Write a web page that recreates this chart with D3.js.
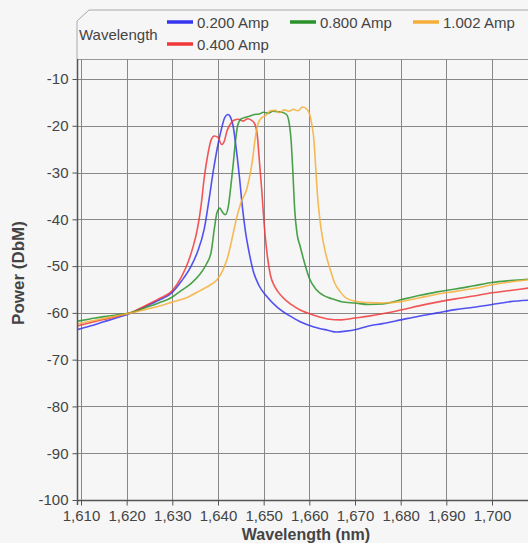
<!DOCTYPE html>
<html>
<head>
<meta charset="utf-8">
<script src="https://cdn.jsdelivr.net/npm/d3@7"></script>
<style>
  body { margin: 0; background: #f6f6f6; }
  svg { display: block; font-family: "Liberation Sans", Arial, sans-serif; }
</style>
</head>
<body>
<div id="chart"></div>
<script>
// tick values
const xTicks = [1610, 1620, 1630, 1640, 1650, 1660, 1670, 1680, 1690, 1700];
const yTicks = [-100, -90, -80, -70, -60, -50, -40, -30, -20, -10];

// series: [wavelength nm, power dBm]
const amp200 = [[1609.1,-63.6],[1612,-62.8],[1615,-61.9],[1618,-61],[1621,-60],[1624,-58.7],[1627,-57.3],[1630,-55.6],[1632,-53.2],[1634,-50.2],[1635.5,-47],[1637,-42],[1638,-36],[1639,-29.5],[1640,-24],[1640.8,-20.5],[1641.5,-18.2],[1642.2,-17.6],[1642.8,-18.3],[1643.3,-20],[1644,-25],[1644.7,-31],[1645.3,-37],[1646,-42.5],[1646.8,-47],[1647.7,-51],[1649,-54.2],[1650.5,-56.3],[1653,-58.8],[1656,-60.8],[1658,-61.9],[1661,-63],[1664,-63.7],[1666,-64.1],[1668,-63.9],[1670,-63.6],[1673,-62.8],[1676,-62.3],[1680,-61.5],[1684,-60.7],[1688,-60],[1692,-59.3],[1696,-58.8],[1700,-58.2],[1704,-57.6],[1708,-57.3]];
const amp400 = [[1609.1,-62.8],[1612,-62.1],[1615,-61.4],[1618,-60.7],[1621,-59.9],[1624,-58.5],[1627,-57],[1630,-55.2],[1632,-52.3],[1633.5,-49],[1634.5,-46],[1635.5,-42],[1636.3,-37],[1637,-31],[1637.8,-26],[1638.5,-23],[1639.2,-22.2],[1640,-22.5],[1640.8,-24],[1641.3,-23.5],[1642,-21],[1642.8,-19.5],[1643.5,-18.8],[1644.5,-18.6],[1645.5,-19],[1646.5,-18.5],[1647.3,-18.8],[1648,-19.5],[1648.6,-22],[1649.1,-28],[1649.6,-34],[1650.1,-41],[1650.7,-47],[1651.5,-52],[1652.5,-54.5],[1654,-56.5],[1656,-58.2],[1658,-59.4],[1661,-60.5],[1664,-61.3],[1667,-61.5],[1670,-61.1],[1673,-60.7],[1676,-60.2],[1680,-59.4],[1684,-58.5],[1688,-57.7],[1692,-57],[1696,-56.4],[1700,-55.7],[1704,-55.2],[1708,-54.7]];
const amp800 = [[1609.1,-61.8],[1612,-61.3],[1615,-60.8],[1618,-60.4],[1621,-59.9],[1624,-58.9],[1627,-57.9],[1630,-56.6],[1632,-55.2],[1634,-53.8],[1636,-51.8],[1637.5,-49.5],[1638.5,-47],[1639.2,-42],[1639.8,-38.5],[1640.4,-37.6],[1641,-38.5],[1641.6,-39],[1642.3,-37],[1642.8,-33],[1643.3,-28.5],[1643.8,-23.5],[1644.3,-20],[1645,-18.6],[1646,-18.2],[1647,-17.9],[1648,-17.6],[1649,-17.5],[1650,-17.1],[1651,-17.3],[1652,-16.9],[1653,-17],[1654,-17.1],[1655,-17.6],[1655.6,-19.5],[1656,-23],[1656.4,-30],[1656.8,-38],[1657.3,-43],[1658,-45.8],[1659,-49.5],[1660,-52.6],[1661.5,-55],[1663,-56.2],[1665,-57],[1667,-57.6],[1670,-57.9],[1673,-58.2],[1676,-58.1],[1680,-57.2],[1684,-56.3],[1688,-55.5],[1692,-54.9],[1696,-54.2],[1700,-53.5],[1704,-53.1],[1708,-52.8]];
const amp1002 = [[1609.1,-62.4],[1612,-61.8],[1615,-61.2],[1618,-60.6],[1621,-60],[1624,-59.3],[1627,-58.6],[1630,-57.7],[1633,-56.8],[1636,-55.3],[1638,-54.2],[1639.7,-53],[1641,-51],[1642,-48.5],[1643,-44.5],[1644,-40],[1645,-36.5],[1646.3,-33.5],[1647,-30.5],[1647.6,-27],[1648.1,-23],[1648.7,-19.8],[1649.5,-18.3],[1650.5,-17.8],[1651.5,-16.8],[1652.5,-16.7],[1653.5,-17.2],[1654.5,-16.6],[1655.5,-16.9],[1656.5,-16.5],[1657.5,-16.8],[1658.5,-16],[1659.3,-16.3],[1660,-17.3],[1660.5,-19.5],[1661,-23],[1661.4,-29],[1661.8,-35],[1662.3,-40],[1662.8,-43.5],[1663.5,-47],[1664.5,-50.5],[1665.5,-53.5],[1666.7,-55.4],[1668,-56.8],[1670,-57.5],[1673,-57.8],[1676,-57.9],[1680,-57.6],[1684,-56.8],[1688,-56],[1692,-55.4],[1696,-54.8],[1700,-54],[1704,-53.4],[1708,-52.9]];

const seriesNames = ['0.200 Amp', '0.400 Amp', '0.800 Amp', '1.002 Amp'];
const seriesData = [amp200, amp400, amp800, amp1002];
const colors = ['#3535f0', '#f03838', '#2a922a', '#f4ae38'];

const W = 528, H = 543;
const plot = {left: 77, top: 59, right: 540, bottom: 500};
const FONT = '"Liberation Sans", Arial, sans-serif';

const x = d3.scaleLinear().domain([1610, 1700]).range([81, 492]);
const y = d3.scaleLinear().domain([-100, -10]).range([500, 79]);

const svg = d3.select('#chart').append('svg')
  .attr('width', W).attr('height', H);

svg.append('defs').append('clipPath').attr('id', 'clip')
  .append('rect')
  .attr('x', plot.left).attr('y', plot.top)
  .attr('width', plot.right - plot.left).attr('height', plot.bottom - plot.top);

// legend frame (chamfered corner, merges with plot top)
svg.append('path')
  .attr('d', `M${plot.left},${plot.top} L${plot.left},21 L89,10 L${W + 5},10`)
  .attr('fill', 'none').attr('stroke', '#aaa').attr('stroke-width', 1);
svg.append('line')
  .attr('x1', plot.left).attr('x2', W + 5)
  .attr('y1', plot.top + 0.5).attr('y2', plot.top + 0.5)
  .attr('stroke', '#999');

// grid
const grid = svg.append('g').attr('class', 'grid');
grid.selectAll('line.v').data(xTicks).join('line')
  .attr('class', 'v')
  .attr('x1', d => Math.round(x(d)) + 0.5).attr('x2', d => Math.round(x(d)) + 0.5)
  .attr('y1', plot.top).attr('y2', plot.bottom)
  .attr('stroke', '#888');
grid.selectAll('line.h').data(yTicks.filter(d => d > -100)).join('line')
  .attr('class', 'h')
  .attr('x1', plot.left).attr('x2', W + 5)
  .attr('y1', d => Math.round(y(d)) + 0.5).attr('y2', d => Math.round(y(d)) + 0.5)
  .attr('stroke', '#888');

// series
const line = d3.line()
  .x(d => x(d[0]))
  .y(d => y(d[1]))
  .curve(d3.curveMonotoneX);

svg.append('g').attr('clip-path', 'url(#clip)')
  .selectAll('path').data(seriesData).join('path')
  .attr('d', line)
  .attr('fill', 'none')
  .attr('stroke', (d, i) => colors[i])
  .attr('stroke-width', 1.6)
  .attr('stroke-linejoin', 'round')
  .attr('opacity', 0.85);

// axes
const xAxis = d3.axisBottom(x).tickValues(xTicks).tickFormat(d3.format(',')).tickSize(5).tickSizeOuter(0);
const yAxis = d3.axisLeft(y).tickValues(yTicks).tickFormat(d => String(d)).tickSize(5).tickSizeOuter(0);

const gx = svg.append('g')
  .attr('transform', `translate(0,${plot.bottom + 0.5})`)
  .call(xAxis);
gx.select('.domain').remove();
gx.append('line').attr('x1', plot.left).attr('x2', W + 5).attr('stroke', '#555').attr('stroke-width', 1.5);

const gy = svg.append('g')
  .attr('transform', `translate(${plot.left + 0.5},0)`)
  .call(yAxis);
gy.select('.domain').remove();
gy.append('line').attr('y1', plot.top).attr('y2', plot.bottom + 5).attr('stroke', '#555').attr('stroke-width', 1.5);

[gx, gy].forEach(g => {
  g.selectAll('.tick line').attr('stroke', '#555');
  g.selectAll('.tick text')
    .attr('fill', '#444')
    .style('font-size', '15px')
    .style('font-family', FONT);
});
gx.selectAll('.tick text').attr('y', 10).attr('dy', '0.71em');
gy.selectAll('.tick text').attr('x', -9);

// axis titles
svg.append('text')
  .attr('x', 306).attr('y', 540)
  .attr('text-anchor', 'middle')
  .attr('font-weight', 'bold').attr('font-size', 16).attr('fill', '#444')
  .text('Wavelength (nm)');
svg.append('text')
  .attr('transform', 'translate(24,273) rotate(-90)')
  .attr('text-anchor', 'middle')
  .attr('font-weight', 'bold').attr('font-size', 17).attr('fill', '#444')
  .text('Power (DbM)');

// legend
const legend = svg.append('g').attr('font-size', 15).attr('fill', '#444');
legend.append('text').attr('x', 79).attr('y', 40).text('Wavelength');
const legendPos = [[167, 22], [167, 44], [290, 22], [413, 22]];
seriesNames.forEach((name, i) => {
  const [lx, ly] = legendPos[i];
  legend.append('line')
    .attr('x1', lx).attr('x2', lx + 26)
    .attr('y1', ly).attr('y2', ly)
    .attr('stroke', colors[i]).attr('stroke-width', 3.5);
  legend.append('text')
    .attr('x', lx + 30).attr('y', ly + 5.5)
    .text(name);
});
</script>
</body>
</html>
